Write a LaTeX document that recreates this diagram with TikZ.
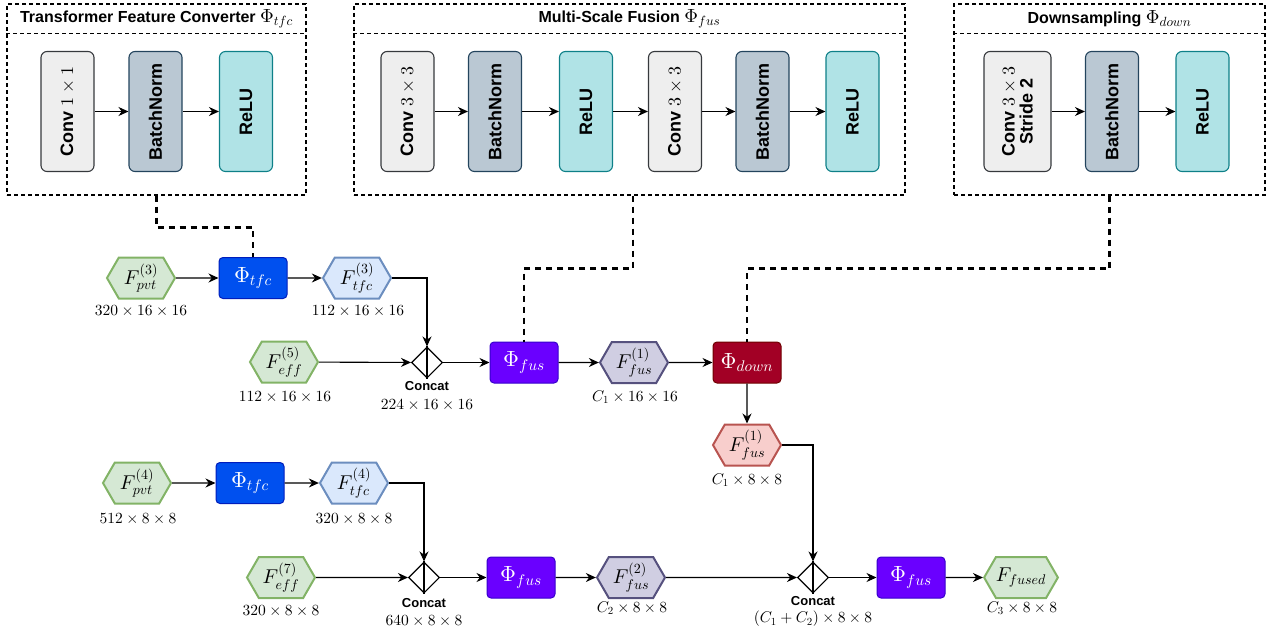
\documentclass[tikz,border=0pt]{standalone}
\usepackage{fontspec}
\DeclareFontShape{OT1}{cmr}{m}{n}{<->cmr10}{}
\DeclareFontShape{OML}{cmm}{m}{it}{<->cmmi10}{}
\DeclareFontShape{OMS}{cmsy}{m}{n}{<->cmsy10}{}
\DeclareFontShape{OMX}{cmex}{m}{n}{<->cmex10}{}
\newfontfamily\sff{Liberation Sans}
\usetikzlibrary{shapes.geometric,shapes.symbols,arrows.meta}
\definecolor{convF}{HTML}{EEEEEE}\definecolor{convD}{HTML}{36393D}
\definecolor{bnF}{HTML}{BAC8D3}\definecolor{bnD}{HTML}{23445D}
\definecolor{reF}{HTML}{B0E3E6}\definecolor{reD}{HTML}{0E8088}
\definecolor{tfcF}{HTML}{0050EF}\definecolor{tfcD}{HTML}{001DBC}
\definecolor{fusF}{HTML}{6A00FF}\definecolor{fusD}{HTML}{3700CC}
\definecolor{dnF}{HTML}{A20025}\definecolor{dnD}{HTML}{6F0000}
\definecolor{gF}{HTML}{D5E8D4}\definecolor{gD}{HTML}{82B366}
\definecolor{bF}{HTML}{DAE8FC}\definecolor{bD}{HTML}{6C8EBF}
\definecolor{pF}{HTML}{D0CEE2}\definecolor{pD}{HTML}{56517E}
\definecolor{rF}{HTML}{F8CECC}\definecolor{rD}{HTML}{B85450}
\newcommand\fsz[1]{\fontsize{#1}{#1}\selectfont}
\newcommand\tm[1]{{\fsz{19}$#1$}}
\begin{document}
\begin{tikzpicture}[x=1pt,y=-1pt,
  dbox/.style={draw, line width=1.1pt, dash pattern=on 4pt off 3pt},
  ttl/.style={font=\sff\bfseries\fsz{16}},
  blk/.style={draw, rounded corners=6pt, rotate=90, minimum width=120pt, minimum height=53pt, line width=1.1pt, font=\sff\bfseries\fsz{18}, align=center, inner sep=0pt},
  conv/.style={blk, fill=convF, draw=convD},
  bn/.style={blk, fill=bnF, draw=bnD},
  relu/.style={blk, fill=reF, draw=reD},
  phi/.style={rounded corners=4pt, minimum width=68pt, minimum height=41pt, text=white, line width=1pt, font=\fsz{22}, inner sep=0pt},
  hexa/.style={signal, signal to=east and west, signal pointer angle=120, minimum width=68pt, minimum height=41pt, line width=2pt, font=\fsz{20}, inner sep=0pt},
  grn/.style={hexa, fill=gF, draw=gD},
  blu/.style={hexa, fill=bF, draw=bD},
  pur/.style={hexa, fill=pF, draw=pD},
  red/.style={hexa, fill=rF, draw=rD},
  cat/.style={diamond, draw, fill=white, line width=1.1pt, minimum width=31pt, minimum height=31pt, inner sep=0pt},
  dim/.style={font=\fsz{15.5}, inner sep=0pt},
  catl/.style={font=\sff\bfseries\fsz{13}, inner sep=0pt},
  arr/.style={-{Stealth[length=10pt,width=9pt]}, line width=1.1pt},
  ln/.style={line width=1.1pt},
  dconn/.style={line width=2.8pt, dash pattern=on 6pt off 5pt}
]
\useasboundingbox (0,0) rectangle (1269,632);

% ---- top boxes ----
\node[dbox, minimum width=299pt, minimum height=191pt] (B1) at (156.5,99.5) {};
\draw[dbox] ([yshift=-30pt]B1.north west) -- ([yshift=-30pt]B1.north east);
\node[ttl] (T1) at ([yshift=-15pt]B1.north) {Transformer Feature Converter \tm{\Phi_{tfc}}};
\node[conv] (c11) at (67.5,111.5) {Conv $1\times1$};
\node[bn] (c12) at (155.5,111.5) {BatchNorm};
\node[relu] (c13) at (246,111.5) {ReLU};
\draw[arr] (c11.south) -- (c12.north);
\draw[arr] (c12.south) -- (c13.north);

\node[dbox, minimum width=551pt, minimum height=191pt] (B2) at (629.5,99.5) {};
\draw[dbox] ([yshift=-30pt]B2.north west) -- ([yshift=-30pt]B2.north east);
\node[ttl] (T2) at ([yshift=-15pt]B2.north) {Multi-Scale Fusion \tm{\Phi_{fus}}};
\node[conv] (c21) at (407.5,111.5) {Conv $3\times3$};
\node[bn] (c22) at (495,111.5) {BatchNorm};
\node[relu] (c23) at (586,111.5) {ReLU};
\node[conv] (c24) at (675,111.5) {Conv $3\times3$};
\node[bn] (c25) at (762.5,111.5) {BatchNorm};
\node[relu] (c26) at (852.5,111.5) {ReLU};
\draw[arr] (c21.south) -- (c22.north);
\draw[arr] (c22.south) -- (c23.north);
\draw[arr] (c23.south) -- (c24.north);
\draw[arr] (c24.south) -- (c25.north);
\draw[arr] (c25.south) -- (c26.north);

\node[dbox, minimum width=311pt, minimum height=191pt] (B3) at (1109.5,99.5) {};
\draw[dbox] ([yshift=-30pt]B3.north west) -- ([yshift=-30pt]B3.north east);
\node[ttl] (T3) at ([yshift=-15pt]B3.north) {Downsampling \tm{\Phi_{down}}};
\node[conv, minimum height=67pt] (c31) at (1017.5,111.5) {Conv $3\times3$\\Stride 2};
\node[bn] (c32) at (1112,111.5) {BatchNorm};
\node[relu] (c33) at (1202.5,111.5) {ReLU};
\draw[arr] (c31.south) -- (c32.north);
\draw[arr] (c32.south) -- (c33.north);

% ---- row 1 ----
\node[grn] (pvt3) at (141,278) {$F^{(3)}_{pvt}$};
\node[phi, fill=tfcF, draw=tfcD] (tfc1) at (253,278) {$\Phi_{tfc}$};
\node[blu] (tfcF3) at (357,278) {$F^{(3)}_{tfc}$};
\node[dim] (l1) at (141,311) {$320\times16\times16$};
\node[dim] (l2) at (358,311) {$112\times16\times16$};

\node[grn] (eff5) at (284,362) {$F^{(5)}_{eff}$};
\node[dim] (l3) at (285,397) {$112\times16\times16$};
\node[cat] (cat1) at (427,362.5) {};
\draw[ln] (cat1.north) -- (cat1.south);
\node[catl] (cl1) at (427,386) {Concat};
\node[dim] (l4) at (427,405) {$224\times16\times16$};
\node[phi, fill=fusF, draw=fusD] (fus1) at (524,362.5) {$\Phi_{fus}$};
\node[pur] (fusF1) at (634,362.5) {$F^{(1)}_{fus}$};
\node[dim] (l5) at (635,397) {$C_1\times16\times16$};
\node[phi, fill=dnF, draw=dnD] (down1) at (747,362.5) {$\Phi_{down}$};
\node[red] (fusR) at (747,445) {$F^{(1)}_{fus}$};
\node[dim] (l6) at (747,480) {$C_1\times8\times8$};

% ---- row 2 ----
\node[grn] (pvt4) at (137,483) {$F^{(4)}_{pvt}$};
\node[phi, fill=tfcF, draw=tfcD] (tfc2) at (250,483) {$\Phi_{tfc}$};
\node[blu] (tfcF4) at (354,483) {$F^{(4)}_{tfc}$};
\node[dim] (l7) at (138,519) {$512\times8\times8$};
\node[dim] (l8) at (354,519) {$320\times8\times8$};

\node[grn] (eff7) at (281,577.5) {$F^{(7)}_{eff}$};
\node[dim] (l9) at (281,611) {$320\times8\times8$};
\node[cat] (cat2) at (424,577.5) {};
\draw[ln] (cat2.north) -- (cat2.south);
\node[catl] (cl2) at (424,603) {Concat};
\node[dim] (l10) at (424,621) {$640\times8\times8$};
\node[phi, fill=fusF, draw=fusD] (fus2) at (521,577.5) {$\Phi_{fus}$};
\node[pur] (fusF2) at (631,577.5) {$F^{(2)}_{fus}$};
\node[dim] (l11) at (632,608) {$C_2\times8\times8$};
\node[cat] (cat3) at (813,577.5) {};
\draw[ln] (cat3.north) -- (cat3.south);
\node[catl] (cl3) at (813,601) {Concat};
\node[dim] (l12) at (813,619) {$(C_1+C_2)\times8\times8$};
\node[phi, fill=fusF, draw=fusD] (fus3) at (911,577.5) {$\Phi_{fus}$};
\node[grn] (fused) at (1021,577.5) {$F_{fused}$};
\node[dim] (l13) at (1022,608) {$C_3\times8\times8$};

% ---- connectors ----
\draw[arr] (pvt3) -- (tfc1);
\draw[arr] (tfc1) -- (tfcF3);
\draw[arr] (tfcF3.east) -| (cat1.north);
\draw[arr] (eff5) -- (cat1);
\draw[arr] (cat1) -- (fus1);
\draw[arr] (fus1) -- (fusF1);
\draw[arr] (fusF1) -- (down1);
\draw[arr] (down1) -- (fusR);
\draw[arr] (fusR.east) -| (cat3.north);

\draw[arr] (pvt4) -- (tfc2);
\draw[arr] (tfc2) -- (tfcF4);
\draw[arr] (tfcF4.east) -| (cat2.north);
\draw[arr] (eff7) -- (cat2);
\draw[arr] (cat2) -- (fus2);
\draw[arr] (fus2) -- (fusF2);
\draw[arr] (fusF2) -- (cat3);
\draw[arr] (cat3) -- (fus3);
\draw[arr] (fus3) -- (fused);

% ---- dashed links ----
\draw[dconn] (B1.south) -- ++(0,32) -| (tfc1.north);
\draw[dconn] ([xshift=3.5pt]B2.south) -- ++(0,73) -| (fus1.north);
\draw[dconn] (B3.south) -- ++(0,73) -| (down1.north);
\end{tikzpicture}
\end{document}
